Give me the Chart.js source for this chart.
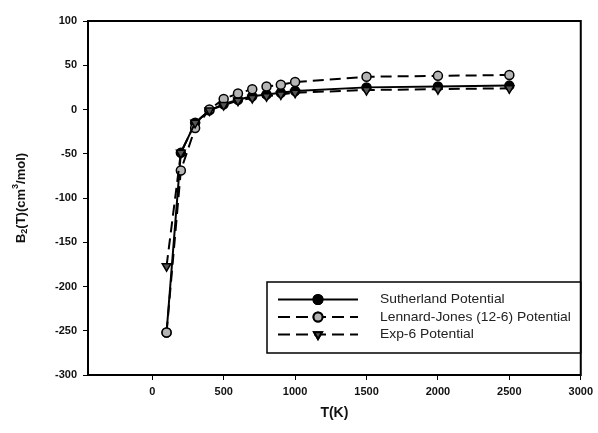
<!DOCTYPE html>
<html>
<head>
<meta charset="utf-8">
<script src="https://cdn.jsdelivr.net/npm/chart.js@4.4.0/dist/chart.umd.min.js"></script>
<style>
  body { margin: 0; background: #fff; }
  #wrap { width: 598px; height: 433px; }
</style>
</head>
<body>
<div id="wrap"><canvas id="grafica" width="598" height="433"></canvas></div>
<script>
const temperaturas = [100, 200, 300, 400, 500, 600, 700, 800, 900, 1000, 1500, 2000, 2500];
const sutherland = [-252, -49, -15, -1, 6, 11, 15, 17, 19, 21, 25, 26, 27];
const lennardJones = [-252, -69, -21, 0, 12, 18, 23, 26, 28, 31, 37, 38, 39];
const exp6 = [-177, -49, -15, -1, 5, 10, 13, 15, 17, 19, 22, 23, 24];
const xTicks = [0, 500, 1000, 1500, 2000, 2500, 3000];
const yTicks = [-300, -250, -200, -150, -100, -50, 0, 50, 100];

function puntos(valores) {
    return temperaturas.map((t, i) => ({ x: t, y: valores[i] }));
}

const series = [
    { label: 'Sutherland Potential', data: puntos(sutherland), dash: [], fill: '#000000', style: 'circle', rot: 0, order: 3 },
    { label: 'Lennard-Jones (12-6) Potential', data: puntos(lennardJones), dash: [11, 6], fill: '#b4b4b4', style: 'circle', rot: 0, order: 2 },
    { label: 'Exp-6 Potential', data: puntos(exp6), dash: [11, 6], fill: '#555555', style: 'triangle', rot: 180, order: 1 }
];

const marcoYTextos = {
    id: 'marcoYTextos',
    afterDraw(chart) {
        const ctx = chart.ctx;
        const a = chart.chartArea;

        // legend box (flush with right side of the plot)
        ctx.save();
        const lx = 267, ly = 282, lh = 71;
        ctx.fillStyle = '#fff';
        ctx.fillRect(lx, ly, a.right - lx, lh);
        ctx.strokeStyle = '#000';
        ctx.lineWidth = 1.5;
        ctx.strokeRect(lx, ly, a.right - lx, lh);
        series.forEach((s, i) => {
            const yy = 299.5 + i * 17.5;
            ctx.strokeStyle = '#000';
            ctx.lineWidth = 2;
            ctx.setLineDash(s.dash.length ? [12, 6] : []);
            ctx.beginPath();
            ctx.moveTo(278, yy);
            ctx.lineTo(358, yy);
            ctx.stroke();
            ctx.setLineDash([]);
            Chart.helpers.drawPoint(ctx, {
                pointStyle: s.style, rotation: s.rot, radius: 4.5, borderWidth: 1.5
            }, 318, yy);
            ctx.fillStyle = s.fill;
            ctx.fill();
            ctx.stroke();
            ctx.save();
            ctx.translate(380, yy);
            ctx.scale(1.065, 1);
            ctx.fillStyle = '#222';
            ctx.font = '13px "Liberation Sans", Arial, sans-serif';
            ctx.textAlign = 'left';
            ctx.textBaseline = 'middle';
            ctx.fillText(s.label, 0, 0);
            ctx.restore();
        });
        ctx.restore();

        ctx.save();
        ctx.strokeStyle = '#000';
        ctx.lineWidth = 2;
        ctx.strokeRect(a.left, a.top, a.right - a.left, a.bottom - a.top);

        // x title
        ctx.fillStyle = '#111';
        ctx.font = 'bold 14px "Liberation Sans", Arial, sans-serif';
        ctx.textAlign = 'center';
        ctx.textBaseline = 'middle';
        ctx.fillText('T(K)', (a.left + a.right) / 2, 413);

        // y title with sub/superscript
        ctx.translate(21, (a.top + a.bottom) / 2);
        ctx.rotate(-Math.PI / 2);
        const big = 'bold 13px "Liberation Sans", Arial, sans-serif';
        const small = 'bold 9px "Liberation Sans", Arial, sans-serif';
        const partes = [
            { t: 'B', f: big, dy: 0 },
            { t: '2', f: small, dy: 4 },
            { t: '(T)(cm', f: big, dy: 0 },
            { t: '3', f: small, dy: -5 },
            { t: '/mol)', f: big, dy: 0 }
        ];
        let total = 0;
        partes.forEach(p => { ctx.font = p.f; total += ctx.measureText(p.t).width; });
        let x = -total / 2;
        ctx.textAlign = 'left';
        partes.forEach(p => {
            ctx.font = p.f;
            ctx.fillText(p.t, x, p.dy);
            x += ctx.measureText(p.t).width;
        });
        ctx.restore();
    }
};

const fuenteTicks = { family: '"Liberation Sans", Arial, sans-serif', size: 11, weight: 'bold' };

new Chart(document.getElementById('grafica').getContext('2d'), {
    type: 'line',
    data: {
        datasets: series.map(s => ({
            label: s.label,
            data: s.data,
            borderColor: '#000',
            borderWidth: 2,
            borderDash: s.dash,
            backgroundColor: s.fill,
            pointBackgroundColor: s.fill,
            pointBorderColor: '#000',
            pointBorderWidth: 1.5,
            pointRadius: s.style === 'triangle' ? 5 : 4.5,
            pointStyle: s.style,
            pointRotation: s.rot,
            tension: 0,
            fill: false,
            order: s.order
        }))
    },
    options: {
        responsive: false,
        animation: false,
        layout: { padding: { left: 0, top: 21, right: 15, bottom: 0 } },
        plugins: { legend: { display: false }, tooltip: { enabled: false } },
        scales: {
            x: {
                type: 'linear',
                min: -450,
                max: 3000,
                afterBuildTicks: axis => { axis.ticks = xTicks.map(v => ({ value: v })); },
                afterFit: axis => { axis.height = 58; },
                grid: { drawOnChartArea: false, drawTicks: true, tickLength: 5, color: '#000', lineWidth: 1 },
                border: { display: false },
                ticks: { color: '#111', font: fuenteTicks, padding: 5, maxRotation: 0, callback: v => String(v) }
            },
            y: {
                min: -300,
                max: 100,
                afterBuildTicks: axis => { axis.ticks = yTicks.map(v => ({ value: v })); },
                afterFit: axis => { axis.width = 88; },
                grid: { drawOnChartArea: false, drawTicks: true, tickLength: 5, color: '#000', lineWidth: 1 },
                border: { display: false },
                ticks: { color: '#111', font: fuenteTicks, padding: 6, callback: v => String(v) }
            }
        }
    },
    plugins: [marcoYTextos]
});
</script>
</body>
</html>
